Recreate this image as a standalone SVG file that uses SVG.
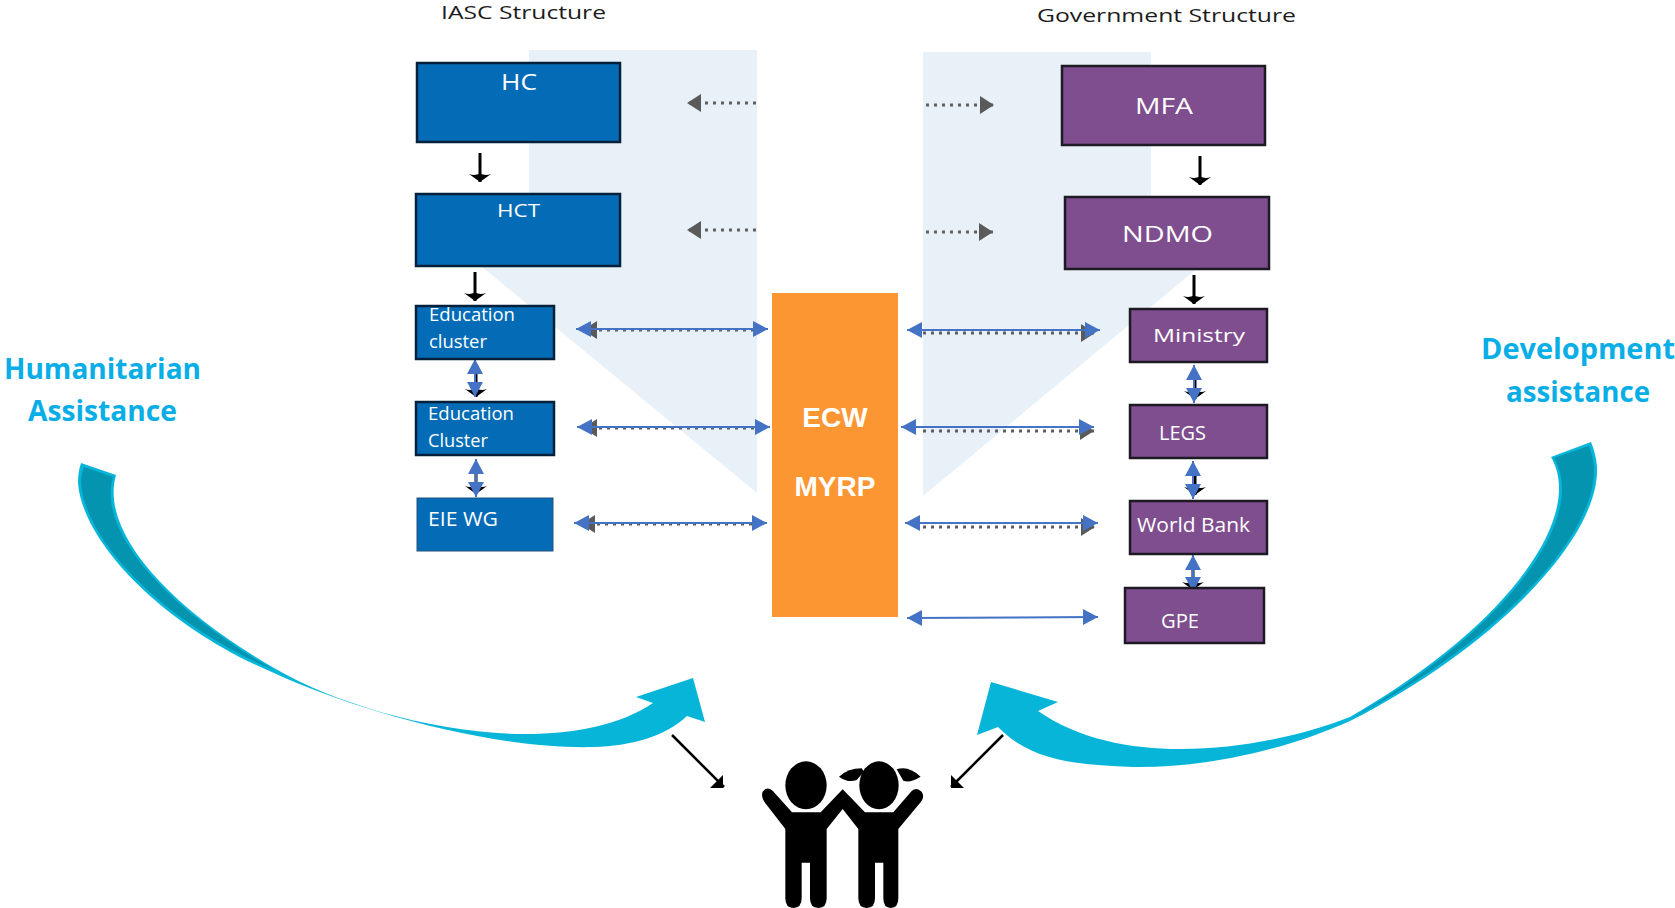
<svg xmlns="http://www.w3.org/2000/svg" width="1675" height="908" viewBox="0 0 1675 908">
<style>
.bg{fill:#e9f1f8}
.blue{fill:#046cb6;stroke:#04203a;stroke-width:2.5}
.purple{fill:#7e4e8e;stroke:#1e1a24;stroke-width:2.5}
.l{font-family:"Open Sans","Noto Sans",sans-serif;fill:#fff}
.h{font-family:"Open Sans","Noto Sans",sans-serif;fill:#1c1c1c;font-size:18px}
.c{font-family:"Liberation Sans",Arial,sans-serif;font-weight:700;fill:#fff;font-size:28px;text-anchor:middle}
.t{font-family:"Open Sans","Noto Sans",sans-serif;font-weight:700;fill:#0aaee6;font-size:29px}
.k{stroke:#000;stroke-width:3;fill:none;marker-end:url(#kh)}
.b{stroke:#4472c4;stroke-width:2;fill:none;marker-start:url(#bh);marker-end:url(#bh)}
.g{stroke:#5f5f5f;stroke-width:3;stroke-dasharray:3 5;fill:none}
.gs{marker-start:url(#gh)}
.ge{marker-end:url(#gh)}
.sw{fill:#07b5d9}
.sd{fill:#0594b0}
</style>
<defs>
<marker id="kh" markerUnits="userSpaceOnUse" markerWidth="24" markerHeight="12" refX="11" refY="10" orient="0" overflow="visible"><path d="M0 2 Q6 4 11 1.500 Q16 4 22 2 L11 10Z" fill="#000"/></marker>
<marker id="bh" markerUnits="userSpaceOnUse" markerWidth="16" markerHeight="16" refX="15" refY="8" orient="auto-start-reverse" overflow="visible"><path d="M0 0L15 8L0 16Z" fill="#4472c4"/></marker>
<marker id="gh" markerUnits="userSpaceOnUse" markerWidth="14" markerHeight="18" refX="14" refY="9" orient="auto-start-reverse" overflow="visible"><path d="M0 0L14 9L0 18Z" fill="#5a5a5a"/></marker>
</defs>

<g id="backgrounds">
<polygon class="bg" points="529,50 757,50 757,493 470,257 529,257"/>
<polygon class="bg" points="923,52 1151,52 1151,262 1205,262 923,496"/>
</g>

<g id="swoosh-left">
<path class="sw" d="M81 463L116 475C100 530 165 605 274 668C370 724 560 765 653 703L636 697L693 678L705 722L687 716C665 737 630 746 594 747C490 750 350 708 274 673C160 625 82 540 78 483Q78 472 81 463Z"/>
<path class="sd" d="M84 467L113 477C97 530 163 606 274 670C162 622 85 540 81 483Q81 474 84 467Z"/>
</g>
<g id="swoosh-right">
<path class="sw" d="M1591 442L1551 457C1585 515 1510 625 1350 717C1280 745 1130 775 1038 711L1058 702L991 682L977 735L998 727C1030 760 1075 765 1133 767C1210 768 1290 748 1350 721C1490 650 1600 540 1597 467Q1596 454 1591 442Z"/>
<path class="sd" d="M1589 446L1554 458C1588 515 1513 626 1350 719C1488 647 1597 540 1594 467Q1593 456 1589 446Z"/>
</g>

<g id="connectors">
<path class="k" d="M480 153V182"/>
<path class="k" d="M475 272V301"/>
<path class="k" d="M1200 156V185"/>
<path class="k" d="M1194 275V304"/>
<path class="k" d="M476 370V397"/>
<path class="k" d="M476 470V494"/>
<path class="k" d="M1195 375V399"/>
<path class="k" d="M1195 470V495"/>
<path class="k" d="M1193 565V590"/>

<path class="g ge" d="M756 103H687"/>
<path class="g ge" d="M756 230H687"/>
<path class="g ge" d="M926 105H994"/>
<path class="g ge" d="M926 232H993"/>

<path class="g gs" d="M583 330H756"/>
<path class="g gs" d="M583 428H756"/>
<path class="g gs" d="M581 524H754"/>
<path class="g ge" d="M923 333H1095"/>
<path class="g ge" d="M923 431H1094"/>
<path class="g ge" d="M923 527H1095"/>

<path class="b" d="M576 329H768"/>
<path class="b" d="M577 427H770"/>
<path class="b" d="M574 523H767"/>
<path class="b" d="M907 330H1100"/>
<path class="b" d="M901 427H1094"/>
<path class="b" d="M905 523H1098"/>
<path class="b" d="M907 618L1098 617"/>
<path class="b" d="M475 359V397"/>
<path class="b" d="M476 459V497"/>
<path class="b" d="M1194 365V403"/>
<path class="b" d="M1193 461V499"/>
<path class="b" d="M1193 555V592"/>

<path d="M672 735L724 787" stroke="#000" stroke-width="2.500"/>
<path d="M723 775V788H710Z" fill="#000"/>
<path d="M1003 735L951 787" stroke="#000" stroke-width="2.500"/>
<path d="M951 775V788H964Z" fill="#000"/>
</g>

<g id="node-hc"><rect class="blue" x="417" y="63" width="203" height="79"/><text class="l" x="501" y="90" font-size="21" textLength="36" lengthAdjust="spacingAndGlyphs">HC</text></g>
<g id="node-hct"><rect class="blue" x="416" y="194" width="204" height="72"/><text class="l" x="497" y="217" font-size="18" textLength="43" lengthAdjust="spacingAndGlyphs">HCT</text></g>
<g id="node-edu1"><rect class="blue" x="416" y="306" width="138" height="53"/><text class="l" x="429" y="321" font-size="19" textLength="86" lengthAdjust="spacingAndGlyphs">Education</text><text class="l" x="429" y="348" font-size="19" textLength="58" lengthAdjust="spacingAndGlyphs">cluster</text></g>
<g id="node-edu2"><rect class="blue" x="416" y="402" width="138" height="53"/><text class="l" x="428" y="420" font-size="19" textLength="86" lengthAdjust="spacingAndGlyphs">Education</text><text class="l" x="428" y="447" font-size="19" textLength="60" lengthAdjust="spacingAndGlyphs">Cluster</text></g>
<g id="node-eie"><rect x="417" y="498" width="136" height="53" fill="#046cb6" stroke="#24527a"/><text class="l" x="428" y="526" font-size="20" textLength="70" lengthAdjust="spacingAndGlyphs">EIE WG</text></g>

<g id="node-ecw"><rect x="772" y="293" width="126" height="324" fill="#fc9632"/><text class="c" x="835" y="427">ECW</text><text class="c" x="835" y="496">MYRP</text></g>

<g id="node-mfa"><rect class="purple" x="1062" y="66" width="203" height="79"/><text class="l" x="1135" y="114" font-size="21" textLength="58" lengthAdjust="spacingAndGlyphs">MFA</text></g>
<g id="node-ndmo"><rect class="purple" x="1065" y="197" width="204" height="72"/><text class="l" x="1122" y="242" font-size="21" textLength="91" lengthAdjust="spacingAndGlyphs">NDMO</text></g>
<g id="node-ministry"><rect class="purple" x="1130" y="309" width="137" height="53"/><text class="l" x="1153" y="342" font-size="19" textLength="92" lengthAdjust="spacingAndGlyphs">Ministry</text></g>
<g id="node-legs"><rect class="purple" x="1130" y="405" width="137" height="53"/><text class="l" x="1159" y="440" font-size="20" textLength="47" lengthAdjust="spacingAndGlyphs">LEGS</text></g>
<g id="node-wb"><rect class="purple" x="1130" y="501" width="137" height="53"/><text class="l" x="1137" y="532" font-size="20" textLength="113" lengthAdjust="spacingAndGlyphs">World Bank</text></g>
<g id="node-gpe"><rect class="purple" x="1125" y="588" width="139" height="55"/><text class="l" x="1161" y="628" font-size="20" textLength="38" lengthAdjust="spacingAndGlyphs">GPE</text></g>

<g id="headings">
<text class="h" x="441" y="19" textLength="165" lengthAdjust="spacingAndGlyphs">IASC Structure</text>
<text class="h" x="1037" y="22" textLength="259" lengthAdjust="spacingAndGlyphs">Government Structure</text>
</g>
<g id="side-labels">
<text class="t" x="4" y="379" textLength="197" lengthAdjust="spacingAndGlyphs">Humanitarian</text>
<text class="t" x="28" y="421" textLength="149" lengthAdjust="spacingAndGlyphs">Assistance</text>
<text class="t" x="1481" y="359" textLength="194" lengthAdjust="spacingAndGlyphs">Development</text>
<text class="t" x="1506" y="402" textLength="144" lengthAdjust="spacingAndGlyphs">assistance</text>
</g>

<g id="node-children" transform="translate(640 660) scale(.33333)" fill="#000">
<ellipse cx="498" cy="376" rx="62" ry="72"/>
<ellipse cx="717" cy="376" rx="59" ry="72"/>
<path d="M456 457L398 392Q380 378 368 395Q362 410 375 428L436 507V715Q436 744 460 744Q485 744 485 715V608H510V715Q510 744 535 744Q560 744 560 715V507L608 447L655 507V715Q655 744 680 744Q705 744 705 715V608H730V715Q730 744 752 744Q775 744 775 715V507L843 425Q855 410 845 395Q830 380 815 393L760 457H675L608 388L542 457Z"/>
<path d="M597 350Q625 325 665 325L672 335L650 360Q625 370 597 350Z"/>
<path d="M770 328Q805 315 842 350Q810 370 790 362Z"/>
</g>
</svg>
